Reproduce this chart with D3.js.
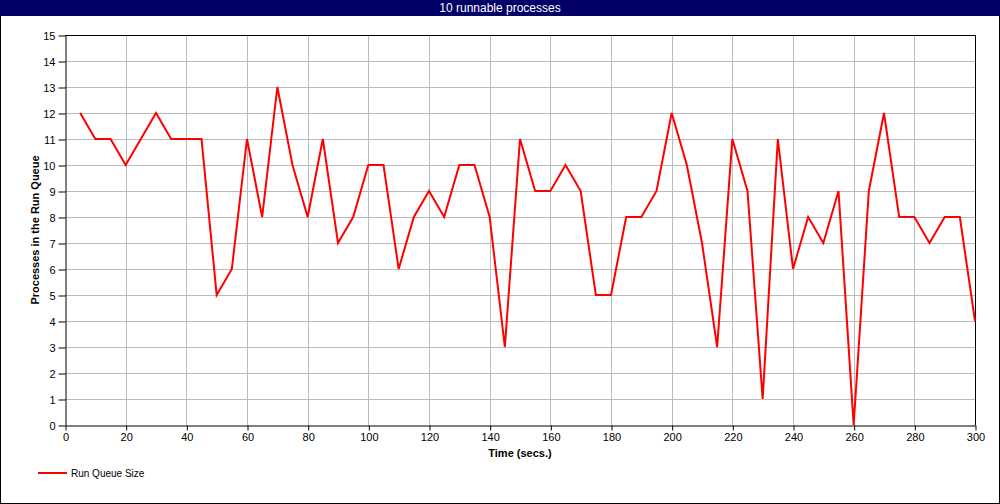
<!DOCTYPE html>
<html><head><meta charset="utf-8">
<script src="https://cdn.jsdelivr.net/npm/d3@7"></script>
<style>
body{margin:0;background:#fff;}
svg{display:block;}
text{font-family:"Liberation Sans",Arial,sans-serif;}
</style></head><body>
<svg id="c" width="1000" height="504"></svg>
<script>
const title = "10 runnable processes";
const xLabel = "Time (secs.)";
const yLabel = "Processes in the Run Queue";
const seriesName = "Run Queue Size";
const times = [5,10,15,20,25,30,35,40,45,50,55,60,65,70,75,80,85,90,95,100,105,110,115,120,125,130,135,140,145,150,155,160,165,170,175,180,185,190,195,200,205,210,215,220,225,230,235,240,245,250,255,260,265,270,275,280,285,290,295,300];
const runQueue = [12,11,11,10,11,12,11,11,11,5,6,11,8,13,10,8,11,7,8,10,10,6,8,9,8,10,10,8,3,11,9,9,10,9,5,5,8,8,9,12,10,7,3,11,9,1,11,6,8,7,9,0,9,12,8,8,7,8,8,4];
const xTicks = [0,20,40,60,80,100,120,140,160,180,200,220,240,260,280,300];
const yTicks = [0,1,2,3,4,5,6,7,8,9,10,11,12,13,14,15];

const svg = d3.select("#c");
const W = 1000, H = 504;
const m = {l:65, r:975, t:35, b:425};
const x = d3.scaleLinear().domain([0,300]).range([m.l, m.r]);
const y = d3.scaleLinear().domain([0,15]).range([m.b, m.t]);

// outer border
svg.append("rect").attr("x",0.5).attr("y",0.5).attr("width",W-1).attr("height",H-1)
  .attr("fill","#fff").attr("stroke","#000");
// title bar
svg.append("rect").attr("x",0).attr("y",0).attr("width",W).attr("height",16).attr("fill","#000066");
svg.append("text").attr("x",W/2).attr("y",12).attr("text-anchor","middle")
  .attr("fill","#fff").attr("font-size",12).text(title);

// grid
const g = svg.append("g");
g.selectAll(".gx").data(xTicks.filter(d=>d>0 && d<300)).enter().append("line")
  .attr("x1",d=>Math.round(x(d))+0.5).attr("x2",d=>Math.round(x(d))+0.5)
  .attr("y1",m.t).attr("y2",m.b).attr("stroke","#bbb");
g.selectAll(".gy").data(yTicks.filter(d=>d>0 && d<15)).enter().append("line")
  .attr("y1",d=>Math.round(y(d))+0.5).attr("y2",d=>Math.round(y(d))+0.5)
  .attr("x1",m.l).attr("x2",m.r).attr("stroke","#bbb");

// frame top & right
svg.append("line").attr("x1",m.l).attr("x2",m.r+0.5).attr("y1",m.t+0.5).attr("y2",m.t+0.5).attr("stroke","#000");
svg.append("line").attr("x1",m.r+0.5).attr("x2",m.r+0.5).attr("y1",m.t).attr("y2",m.b).attr("stroke","#000");

// axes
const xAxis = d3.axisBottom(x).tickValues(xTicks).tickSizeInner(5).tickSizeOuter(0).tickPadding(3);
const xg = svg.append("g").attr("transform",`translate(0.5,${m.b+0.5})`).call(xAxis);
xg.selectAll("text").attr("font-family","Liberation Sans, Arial, sans-serif").attr("font-size",11).attr("fill","#000");
xg.select(".domain").attr("stroke","#000");
const yAxis = d3.axisLeft(y).tickValues(yTicks).tickSizeInner(7).tickSizeOuter(0).tickPadding(3);
const yg = svg.append("g").attr("transform",`translate(${m.l+0.5},0.5)`).call(yAxis);
yg.selectAll("text").attr("font-family","Liberation Sans, Arial, sans-serif").attr("font-size",11).attr("fill","#000");
yg.select(".domain").attr("stroke","#000");

// axis titles
svg.append("text").attr("x",(m.l+m.r)/2).attr("y",457).attr("text-anchor","middle")
  .attr("font-weight","bold").attr("font-size",11).text(xLabel);
svg.append("text").attr("transform",`translate(39,${(m.t+m.b)/2}) rotate(-90)`).attr("text-anchor","middle")
  .attr("font-weight","bold").attr("font-size",11).text(yLabel);

// line
const line = d3.line().x((d,i)=>x(times[i])).y(d=>y(d));
svg.append("path").datum(runQueue).attr("d",line).attr("fill","none")
  .attr("stroke","#ff0000").attr("stroke-width",2).attr("stroke-linejoin","miter");

// legend
svg.append("line").attr("x1",38).attr("x2",67).attr("y1",473).attr("y2",473).attr("stroke","#ff0000").attr("stroke-width",2);
svg.append("text").attr("x",71).attr("y",477).attr("font-size",10).text(seriesName);
</script>
</body></html>
